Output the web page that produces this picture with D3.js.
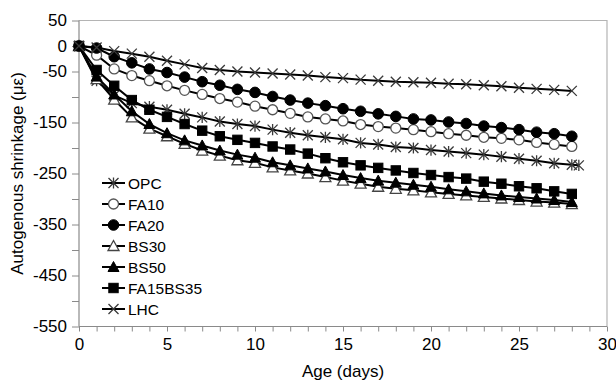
<!DOCTYPE html>
<html>
<head>
<meta charset="utf-8">
<script src="https://cdn.jsdelivr.net/npm/d3@7"></script>
<style>
  html, body { margin: 0; padding: 0; background: #fff; }
  svg { display: block; }
  text { font-family: "Liberation Sans", Arial, sans-serif; fill: #000; }
</style>
</head>
<body>
<svg id="chart" width="616" height="381"></svg>
<script>
// Autogenous shrinkage (microstrain) against age, one value per day
const ageDays = [0, 1, 2, 3, 4, 5, 6, 7, 8, 9, 10, 11, 12, 13, 14, 15, 16, 17, 18, 19, 20, 21, 22, 23, 24, 25, 26, 27, 28];
const opcAgeDays = ageDays.concat([28.4]);

const opc = [0, -68, -97, -112, -119, -125, -133, -140, -148, -153, -157, -164, -170, -175, -179, -183, -190, -193, -198, -200, -204, -207, -210, -213, -217, -221, -225, -230, -233, -234];
const fa10 = [0, -18, -45, -58, -68, -78, -87, -95, -103, -110, -118, -125, -132, -139, -143, -147, -154, -158, -161, -164, -168, -172, -175, -179, -181, -184, -189, -193, -197];
const fa20 = [0, -4, -21, -33, -45, -52, -61, -70, -77, -85, -91, -99, -106, -112, -117, -123, -128, -133, -138, -143, -145, -149, -152, -157, -160, -164, -169, -172, -177];
const bs30 = [0, -65, -105, -140, -162, -177, -192, -205, -215, -224, -229, -238, -244, -250, -257, -264, -270, -276, -280, -283, -287, -290, -293, -296, -299, -302, -305, -307, -310];
const bs50 = [0, -60, -95, -128, -153, -171, -185, -195, -205, -213, -219, -228, -234, -240, -246, -253, -259, -264, -268, -272, -276, -281, -285, -289, -293, -296, -299, -302, -306];
const fa15bs35 = [0, -47, -78, -106, -125, -139, -153, -166, -177, -184, -190, -197, -203, -211, -220, -228, -234, -239, -244, -249, -253, -257, -260, -266, -270, -275, -279, -285, -290];
const lhc = [0, -3, -10, -15, -21, -29, -36, -43, -47, -50, -52, -54, -56, -58, -61, -63, -66, -68, -70, -71, -72, -74, -75, -77, -79, -82, -84, -86, -88];

const seriesNames = ["OPC", "FA10", "FA20", "BS30", "BS50", "FA15BS35", "LHC"];
const seriesMarkers = ["asterisk", "circleOpen", "circleFilled", "triangleOpen", "triangleFilled", "squareFilled", "cross"];

const xTickValues = [0, 1, 2, 3, 4, 5, 6, 7, 8, 9, 10, 11, 12, 13, 14, 15, 16, 17, 18, 19, 20, 21, 22, 23, 24, 25, 26, 27, 28, 29, 30];
const xTickLabels = [0, 5, 10, 15, 20, 25, 30];
const yTickValues = [50, 0, -50, -100, -150, -200, -250, -300, -350, -400, -450, -500, -550];
const yTickLabels = [50, 0, -50, -150, -250, -350, -450, -550];

const series = [
  { name: seriesNames[0], marker: seriesMarkers[0], x: opcAgeDays, y: opc },
  { name: seriesNames[1], marker: seriesMarkers[1], x: ageDays, y: fa10 },
  { name: seriesNames[2], marker: seriesMarkers[2], x: ageDays, y: fa20 },
  { name: seriesNames[3], marker: seriesMarkers[3], x: ageDays, y: bs30 },
  { name: seriesNames[4], marker: seriesMarkers[4], x: ageDays, y: bs50 },
  { name: seriesNames[5], marker: seriesMarkers[5], x: ageDays, y: fa15bs35 },
  { name: seriesNames[6], marker: seriesMarkers[6], x: ageDays, y: lhc }
];

const svg = d3.select("#chart");
const plot = { left: 79, right: 607, top: 20.5, bottom: 326.5 };

const x = d3.scaleLinear().domain([0, 30]).range([plot.left, plot.right]);
const y = d3.scaleLinear().domain([-550, 50]).range([plot.bottom, plot.top]);

// plot frame (top and right edges)
svg.append("path")
  .attr("d", `M${plot.left},${plot.top}H${plot.right}V${plot.bottom}`)
  .attr("fill", "none").attr("stroke", "#b4b4b4").attr("stroke-width", 1.2);

// x axis
const xAxis = d3.axisBottom(x)
  .tickValues(xTickValues)
  .tickSize(5)
  .tickPadding(6)
  .tickFormat(d => xTickLabels.includes(d) ? d : "");
const gx = svg.append("g").attr("transform", `translate(0,${plot.bottom})`).call(xAxis);
gx.select(".domain").attr("stroke", "#8a8a8a").attr("stroke-width", 1.2).attr("d", `M${plot.left},0H${plot.right}`);
gx.selectAll(".tick line").attr("stroke", "#8a8a8a");
gx.selectAll(".tick text").attr("font-size", 17).attr("font-family", "Liberation Sans, Arial, sans-serif").attr("fill", "#000");

// y axis
const yAxis = d3.axisLeft(y)
  .tickValues(yTickValues)
  .tickSize(7)
  .tickPadding(5)
  .tickFormat(d => yTickLabels.includes(d) ? d : "");
const gy = svg.append("g").attr("transform", `translate(${plot.left},0)`).call(yAxis);
gy.select(".domain").attr("stroke", "#8a8a8a").attr("stroke-width", 1.2).attr("d", `M0,${plot.top}V${plot.bottom}`);
gy.selectAll(".tick line").attr("stroke", "#8a8a8a");
gy.selectAll(".tick text").attr("font-size", 17).attr("font-family", "Liberation Sans, Arial, sans-serif").attr("fill", "#000");

// axis titles
svg.append("text")
  .attr("x", (plot.left + plot.right) / 2).attr("y", 377)
  .attr("text-anchor", "middle").attr("font-size", 17)
  .text("Age (days)");

svg.append("text")
  .attr("transform", `translate(23,${(plot.top + plot.bottom) / 2}) rotate(-90)`)
  .attr("text-anchor", "middle").attr("font-size", 17)
  .text("Autogenous shrinkage (με)");

// marker drawing
function drawMarker(g, type, cx, cy) {
  const s = 5;
  switch (type) {
    case "circleOpen":
      g.append("circle").attr("cx", cx).attr("cy", cy).attr("r", s)
        .attr("fill", "#fff").attr("stroke", "#555").attr("stroke-width", 1.3);
      break;
    case "circleFilled":
      g.append("circle").attr("cx", cx).attr("cy", cy).attr("r", s + 0.3)
        .attr("fill", "#000").attr("stroke", "#000").attr("stroke-width", 1);
      break;
    case "triangleOpen":
      g.append("path")
        .attr("d", `M${cx},${cy - s - 0.5}L${cx + s + 0.5},${cy + s - 0.5}L${cx - s - 0.5},${cy + s - 0.5}Z`)
        .attr("fill", "#fff").attr("stroke", "#444").attr("stroke-width", 1.3);
      break;
    case "triangleFilled":
      g.append("path")
        .attr("d", `M${cx},${cy - s - 0.5}L${cx + s + 0.5},${cy + s - 0.5}L${cx - s - 0.5},${cy + s - 0.5}Z`)
        .attr("fill", "#000").attr("stroke", "#000").attr("stroke-width", 1);
      break;
    case "squareFilled":
      g.append("rect").attr("x", cx - s + 0.3).attr("y", cy - s + 0.3).attr("width", 2 * s - 0.6).attr("height", 2 * s - 0.6)
        .attr("fill", "#000").attr("stroke", "#000").attr("stroke-width", 1);
      break;
    case "asterisk":
      g.append("path")
        .attr("d", `M${cx - s},${cy - s}L${cx + s},${cy + s}M${cx - s},${cy + s}L${cx + s},${cy - s}M${cx},${cy - s - 0.6}V${cy + s + 0.6}`)
        .attr("fill", "none").attr("stroke", "#3a3a3a").attr("stroke-width", 1.3);
      break;
    case "cross":
      g.append("path")
        .attr("d", `M${cx - s},${cy - s}L${cx + s},${cy + s}M${cx - s},${cy + s}L${cx + s},${cy - s}`)
        .attr("fill", "none").attr("stroke", "#3a3a3a").attr("stroke-width", 1.3);
      break;
  }
}

const line = d3.line().x(d => x(d[0])).y(d => y(d[1]));

// series lines and markers
series.forEach(s => {
  const pts = s.x.map((v, i) => [v, s.y[i]]);
  const g = svg.append("g").attr("class", "series");
  g.append("path").attr("d", line(pts))
    .attr("fill", "none").attr("stroke", "#000").attr("stroke-width", 2);
  pts.forEach(p => drawMarker(g, s.marker, x(p[0]), y(p[1])));
});

// legend
const legend = svg.append("g").attr("class", "legend");
series.forEach((s, i) => {
  const ly = 183 + i * 21;
  legend.append("line").attr("x1", 102).attr("x2", 125).attr("y1", ly).attr("y2", ly)
    .attr("stroke", "#000").attr("stroke-width", 2);
  drawMarker(legend, s.marker, 113.5, ly);
  legend.append("text").attr("x", 128).attr("y", ly).attr("dy", "0.36em")
    .attr("font-size", 15.5).text(s.name);
});
</script>
</body>
</html>
